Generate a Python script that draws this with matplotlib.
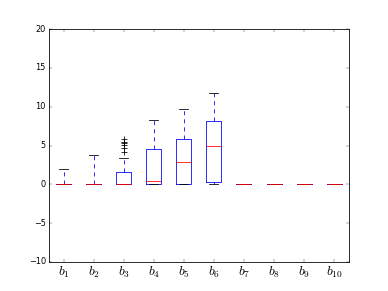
import matplotlib
matplotlib.use("Agg")
import matplotlib.pyplot as plt

plt.style.use("classic")

labels = [r"$b_{%d}$" % i for i in range(1, 11)]
q1 = [0, 0, 0, 0, 0, 0.3, 0, 0, 0, 0]
med = [0, 0, 0, 0.47, 2.9, 5.0, 0, 0, 0, 0]
q3 = [0, 0, 1.6, 4.6, 5.8, 8.2, 0, 0, 0, 0]
whislo = [0, 0, 0, 0, 0, 0, 0, 0, 0, 0]
whishi = [2.0, 3.75, 3.35, 8.3, 9.7, 11.8, 0, 0, 0, 0]
fliers = [[], [], [5.8, 5.45, 5.3, 5.1, 4.7, 4.2], [], [], [], [], [], [], []]

stats = []
for i in range(len(labels)):
    stats.append(dict(label=labels[i], q1=q1[i], med=med[i], q3=q3[i],
                      whislo=whislo[i], whishi=whishi[i], fliers=fliers[i]))

fig = plt.figure(figsize=(8, 6))
ax = fig.add_subplot(111)
lw = 1.2
ax.bxp(stats, showfliers=True, widths=0.5, capwidths=0.3,
       boxprops=dict(color="b", linewidth=lw),
       medianprops=dict(color="r", linewidth=lw),
       whiskerprops=dict(color="b", linestyle="--", linewidth=lw),
       capprops=dict(color="k", linewidth=lw),
       flierprops=dict(marker="+", markeredgecolor="k", markersize=8,
                       markeredgewidth=lw))
ax.set_ylim(-10, 20)
ax.set_yticks([-10, -5, 0, 5, 10, 15, 20])
for t in ax.get_xticklabels():
    t.set_fontsize(20)
for sp in ax.spines.values():
    sp.set_linewidth(1.2)
fig.savefig("out.png", dpi=48.5)
